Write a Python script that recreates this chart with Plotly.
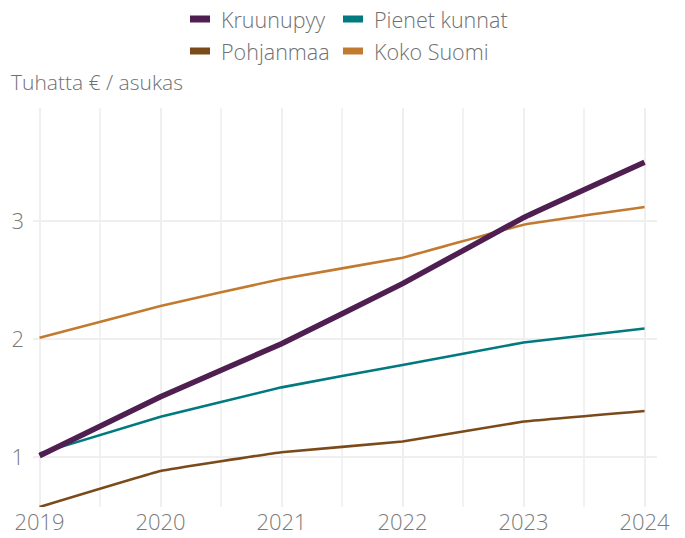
import plotly.graph_objects as go

years = [2019, 2020, 2021, 2022, 2023, 2024]
series_names = ["Kruunupyy", "Pienet kunnat", "Pohjanmaa", "Koko Suomi"]
kruunupyy = [1.01, 1.51, 1.96, 2.47, 3.03, 3.50]
pienet_kunnat = [1.03, 1.34, 1.59, 1.78, 1.97, 2.09]
pohjanmaa = [0.575, 0.88, 1.04, 1.13, 1.30, 1.39]
koko_suomi = [2.01, 2.28, 2.51, 2.69, 2.97, 3.12]
y_ticks = [1, 2, 3]
y_title = "Tuhatta € / asukas"

values = [kruunupyy, pienet_kunnat, pohjanmaa, koko_suomi]
colors = ["#4E1F50", "#00797F", "#7A4A1B", "#C27A30"]
widths = [5.5, 2.6, 2.6, 2.6]

FONT = "Open Sans"
TEXT_COLOR = "#707070"
W, H = 685, 538
ML, MR, MT, MB = 33, 28, 108, 31

fig = go.Figure()
# draw order: thin lines first, bold Kruunupyy on top
for i in [3, 2, 1, 0]:
    fig.add_trace(go.Scatter(
        x=years, y=values[i], name=series_names[i], mode="lines",
        line=dict(color=colors[i], width=widths[i], shape="spline", smoothing=0.2),
        showlegend=False, hoverinfo="skip",
    ))

# legend built from names/colors in a 2x2 grid
pw = W - ML - MR
ph = H - MT - MB
def px_to_paper_x(px):
    return (px - ML) / pw
def px_to_paper_y(py):
    return (H - MB - py) / ph

col_x = [190, 343]
row_y = [19, 51]
shapes = []
annotations = []
for k, name in enumerate(series_names):
    r, c = divmod(k, 2)
    sx = px_to_paper_x(col_x[c])
    sy = px_to_paper_y(row_y[r])
    shapes.append(dict(
        type="rect", xref="paper", yref="paper",
        xsizemode="pixel", ysizemode="pixel",
        xanchor=sx, yanchor=sy, x0=0, x1=20, y0=-3.5, y1=3.5,
        fillcolor=colors[k], line=dict(width=0),
    ))
    annotations.append(dict(
        x=px_to_paper_x(col_x[c] + 29), y=sy, xref="paper", yref="paper",
        text=name, showarrow=False, xanchor="left", yanchor="middle",
        font=dict(family=FONT, size=21.5, color=TEXT_COLOR, weight=300),
    ))

annotations.append(dict(
    x=px_to_paper_x(9), y=px_to_paper_y(82), xref="paper", yref="paper",
    text=y_title, showarrow=False, xanchor="left", yanchor="middle",
    font=dict(family=FONT, size=21, color=TEXT_COLOR, weight=300),
))

fig.update_layout(
    width=W, height=H,
    margin=dict(l=ML, r=MR, t=MT, b=MB, pad=0, autoexpand=False),
    paper_bgcolor="white", plot_bgcolor="white",
    shapes=shapes, annotations=annotations,
    font=dict(family=FONT, color=TEXT_COLOR),
)
fig.update_xaxes(
    range=[2018.946, 2024.103], tickvals=years, ticktext=[str(y) for y in years],
    showgrid=True, gridcolor="#EFEFEF", gridwidth=2,
    minor=dict(dtick=0.5, tick0=2019, showgrid=True, gridcolor="#F2F2F2", gridwidth=1.5),
    zeroline=False, showline=False, ticks="", automargin=False,
    tickfont=dict(family=FONT, size=22, color="#7a7a7a", weight=300),
)
fig.update_yaxes(
    range=[0.575, 3.96], tickvals=y_ticks,
    showgrid=True, gridcolor="#EFEFEF", gridwidth=2,
    zeroline=False, showline=False, ticks="", automargin=False,
    ticklabelstandoff=8,
    tickfont=dict(family=FONT, size=22, color="#7a7a7a", weight=300),
)

fig.write_html("out.html")
